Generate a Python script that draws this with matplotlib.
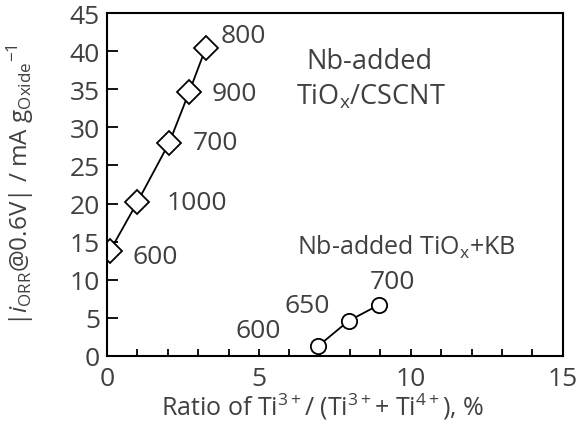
import matplotlib.pyplot as plt
from matplotlib.ticker import MultipleLocator

plt.rcParams['font.family'] = ['Open Sans', 'DejaVu Sans']
plt.rcParams['mathtext.fontset'] = 'custom'
plt.rcParams['mathtext.rm'] = 'Open Sans'
plt.rcParams['mathtext.it'] = 'Open Sans:italic'

# --- Data
# Nb-added TiOx/CSCNT (diamonds), labelled by calcination temperature
cscnt_x = [0.1, 1.0, 2.05, 2.7, 3.25]
cscnt_y = [13.8, 20.2, 28.0, 34.6, 40.4]
cscnt_lab = ['600', '1000', '700', '900', '800']
# Nb-added TiOx+KB (circles)
kb_x = [6.95, 7.95, 8.95]
kb_y = [1.3, 4.6, 6.7]
kb_lab = ['600', '650', '700']

txt = '#404040'

fig = plt.figure(figsize=(5.88, 4.27), dpi=100)
ax = fig.add_axes([0.182, 0.164, 0.775, 0.803])

ax.plot(cscnt_x, cscnt_y, '-', color='black', lw=1.3, marker='D', ms=12.5,
        mfc='white', mec='black', mew=1.3)
ax.plot(kb_x, kb_y, '-', color='black', lw=1.3, marker='o', ms=11,
        mfc='white', mec='black', mew=1.3)

# point labels
lab_pos_cscnt = [(0.85, 13.0), (1.95, 20.2), (2.82, 28.0), (3.45, 34.5), (3.75, 42.1)]
for (lx, ly), s in zip(lab_pos_cscnt, cscnt_lab):
    ax.text(lx, ly, s, fontsize=19, color=txt, ha='left', va='center')
lab_pos_kb = [(4.97, 3.3), (6.6, 6.6), (9.4, 9.8)]
for (lx, ly), s in zip(lab_pos_kb, kb_lab):
    ax.text(lx, ly, s, fontsize=19, color=txt, ha='center', va='center')

ax.text(8.65, 38.7, 'Nb-added', fontsize=19.5, color=txt, ha='center', va='center')
ax.text(8.7, 34.1, r'TiO$_\mathregular{x}$/CSCNT', fontsize=19.5, color=txt,
        ha='center', va='center')
ax.text(9.85, 14.4, r'Nb-added TiO$_\mathregular{x}$+KB', fontsize=18, color=txt,
        ha='center', va='center')

ax.set_xlim(0, 15)
ax.set_ylim(0, 45)
ax.xaxis.set_major_locator(MultipleLocator(5))
ax.xaxis.set_minor_locator(MultipleLocator(1))
ax.yaxis.set_major_locator(MultipleLocator(5))
ax.tick_params(axis='x', which='both', direction='in', length=5, width=1.3,
               labelsize=19, labelcolor=txt, pad=7)
ax.tick_params(axis='y', which='major', direction='in', length=8, width=1.3,
               labelsize=19, labelcolor=txt, pad=5)
for sp in ax.spines.values():
    sp.set_linewidth(1.5)

ax.set_xlabel(r'Ratio of Ti$^{\mathregular{3+}}$/ (Ti$^{\mathregular{3+}}$+ Ti$^{\mathregular{4+}}$), %',
              fontsize=18, color=txt, va='center')
ax.set_ylabel(r'|$\mathit{i}_\mathregular{ORR}$@0.6V| / mA g$_\mathregular{Oxide}$$^\mathregular{-1}$',
              fontsize=17.5, color=txt, va='center')
ax.xaxis.set_label_coords(0.474, -0.146)
ax.yaxis.set_label_coords(-0.19, 0.5)

fig.savefig('out.png', dpi=100)
